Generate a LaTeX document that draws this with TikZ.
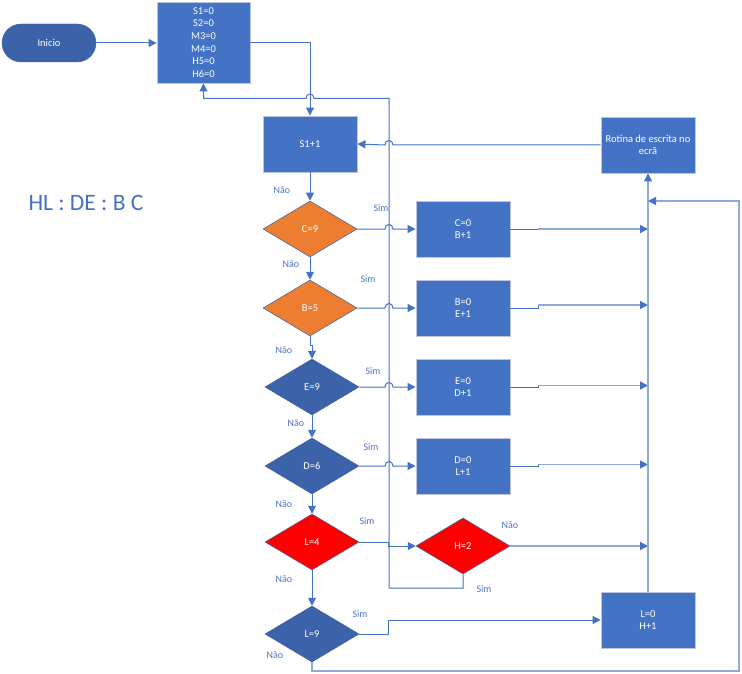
\documentclass[tikz,border=0pt]{standalone}
\usepackage{fontspec}
\setmainfont{Carlito}
\usetikzlibrary{shapes.geometric,arrows.meta}

\definecolor{boxblue}{HTML}{4472C4}
\definecolor{dkblue}{HTML}{3C63AA}
\definecolor{boxedge}{HTML}{BCC6D8}
\definecolor{diaedge}{HTML}{3A5E9E}
\definecolor{flamed}{HTML}{ED7D31}
\definecolor{alarm}{HTML}{FF0000}
\definecolor{linkblue}{HTML}{4472C4}
\definecolor{softblue}{HTML}{8EAADB}
\definecolor{lblblue}{HTML}{4F73C8}

\newcommand\bxfont{\fontsize{10.5}{12.6}\selectfont}
\newcommand\lbfont{\fontsize{10}{12}\selectfont}

\begin{document}
\begin{tikzpicture}[x=1pt,y=-1pt,
  box/.style={rectangle,fill=boxblue,draw=boxedge,line width=0.9pt,
    minimum width=94pt,minimum height=56pt,inner sep=1pt,
    text=white,font=\bxfont,align=center},
  terminal/.style={rectangle,rounded corners=19pt,fill=dkblue,draw=dkblue,
    minimum width=94pt,minimum height=38pt,text=white,font=\bxfont},
  dec/.style={diamond,draw=diaedge,line width=0.5pt,aspect=1.68,
    minimum width=94pt,minimum height=56pt,inner sep=0pt,
    text=white,font=\bxfont},
  lbl/.style={text=lblblue,font=\lbfont,inner sep=0pt},
  link/.style={draw=linkblue,line width=1pt},
  soft/.style={draw=softblue,line width=1.3pt},
  tip/.style={-{Triangle[length=8pt,width=8pt,color=linkblue]}},
  % small line hop over a vertical line, for a line running right / left
  hopr/.style={insert path={-- ([xshift=-4pt]#1)
      .. controls ([xshift=-4pt,yshift=6pt]#1) and ([xshift=4pt,yshift=6pt]#1)
      .. ([xshift=4pt]#1)}},
  hopl/.style={insert path={-- ([xshift=4pt]#1)
      .. controls ([xshift=4pt,yshift=6pt]#1) and ([xshift=-4pt,yshift=6pt]#1)
      .. ([xshift=-4pt]#1)}},
]
\useasboundingbox (0,0) rectangle (742,674);

% ---- blocks ----
\node[terminal] (ini) at (49,43) {Inicio};
\node[box,minimum width=93pt,minimum height=81pt] (init) at (203.5,42.5)
  {S1=0\\S2=0\\M3=0\\M4=0\\H5=0\\H6=0};
\node[box] (s1) at (310,144) {S1+1};
\node[box] (rot) at (648,145) {Rotina de escrita no\\ecrã};

\node[dec,fill=flamed] (c9) at (310,229) {C=9};
\node[box] (c0) at (463,229) {C=0\\B+1};
\node[dec,fill=flamed] (b5) at (310,308) {B=5};
\node[box] (b0) at (463,308) {B=0\\E+1};
\node[dec,fill=dkblue] (e9) at (312,387) {E=9};
\node[box] (e0) at (463,387) {E=0\\D+1};
\node[dec,fill=dkblue] (d6) at (312,466) {D=6};
\node[box] (d0) at (463,466) {D=0\\L+1};
\node[dec,fill=alarm] (l4) at (312,542) {L=4};
\node[dec,fill=alarm] (h2) at (463,546) {H=2};
\node[dec,fill=dkblue] (l9) at (312,634) {L=9};
\node[box] (l0) at (648,620) {L=0\\H+1};

\node[text=boxblue,font=\fontsize{23.5}{26}\selectfont,inner sep=0pt]
  (legend) at (86,203) {HL : DE : B C};

% ---- routing points ----
\coordinate (busT) at (389,98.5);
\coordinate (busB) at (389,588);
\coordinate (col) at (648,201);
\coordinate (loopR) at (739,671);
\coordinate (hop1) at (310,98.5);
\coordinate (hop2) at (389,145);
\coordinate (hop3) at (389,229);
\coordinate (hop4) at (389,308);
\coordinate (hop5) at (389,387);
\coordinate (hop6) at (389,466);
\coordinate (jb) at (538,305);
\coordinate (je) at (538,385.5);
\coordinate (jd) at (538,464.5);
\coordinate (jl4) at (388,546);
\coordinate (jl9) at (388,620);

% ---- main chain ----
\draw[link,tip] (ini.east) -- (init.west |- ini.east);
\draw[link,tip] (init.east |- ini.east) -| (s1.north);
\draw[link,tip] (s1.south) -- (c9.north);
\draw[link,tip] (c9.south) -- (b5.north);
\draw[link,tip] (b5.south) -- ++(0,9) -| (e9.north);
\draw[link,tip] (e9.south) -- (d6.north);
\draw[link,tip] (d6.south) -- (l4.north);
\draw[link,tip] (l4.south) -- (l9.north);

% ---- "Sim" branches ----
\draw[link,tip] (c9.east) [hopr=hop3] -- (c0.west);
\draw[link,tip] (b5.east) [hopr=hop4] -- (b0.west);
\draw[link,tip] (e9.east) [hopr=hop5] -- (e0.west);
\draw[link,tip] (d6.east) [hopr=hop6] -- (d0.west);
\draw[link,tip] (l4.east) -| (jl4) -- (h2.west);
\draw[link,tip] (l9.east) -| (jl9) -- (l0.west);

% ---- back to the start when H=2 ----
\draw[link,tip] (h2.south) |- (busB) -- (busT) [hopl=hop1]
  -- (init.south |- busT) -- (init.south);

% ---- screen routine back to S1+1 ----
\draw[link,tip] (rot.west) [hopl=hop2] -- (s1.east);

% ---- results into the collector ----
\draw[link] (c0.east) -- (c0.east -| jb);
\draw[soft,tip] (c0.east -| jb) -- (c0.east -| col);
\draw[link] (b0.east) -| (jb);
\draw[soft,tip] (jb) -- (jb -| col);
\draw[link] (e0.east) -| (je);
\draw[soft,tip] (je) -- (je -| col);
\draw[link] (d0.east) -| (jd);
\draw[soft,tip] (jd) -- (jd -| col);
\draw[soft,tip] (h2.east) -- (h2.east -| col);
\draw[soft,tip] (l0.north) -- (rot.south);
\draw[soft,tip] (l9.south) |- (loopR) |- (col);

% ---- labels ----
\node[lbl] (n1) at (282,190) {Não};
\node[lbl] (n2) at (291,264) {Não};
\node[lbl] (n3) at (284,350) {Não};
\node[lbl] (n4) at (296,423) {Não};
\node[lbl] (n5) at (284,504) {Não};
\node[lbl] (n6) at (284,579) {Não};
\node[lbl] (n7) at (275,655) {Não};
\node[lbl] (n8) at (510,525) {Não};
\node[lbl] (y1) at (381,208) {Sim};
\node[lbl] (y2) at (368,279) {Sim};
\node[lbl] (y3) at (373,371) {Sim};
\node[lbl] (y4) at (371,447) {Sim};
\node[lbl] (y5) at (367,521) {Sim};
\node[lbl] (y6) at (360,614) {Sim};
\node[lbl] (y7) at (484,589) {Sim};
\end{tikzpicture}
\end{document}
